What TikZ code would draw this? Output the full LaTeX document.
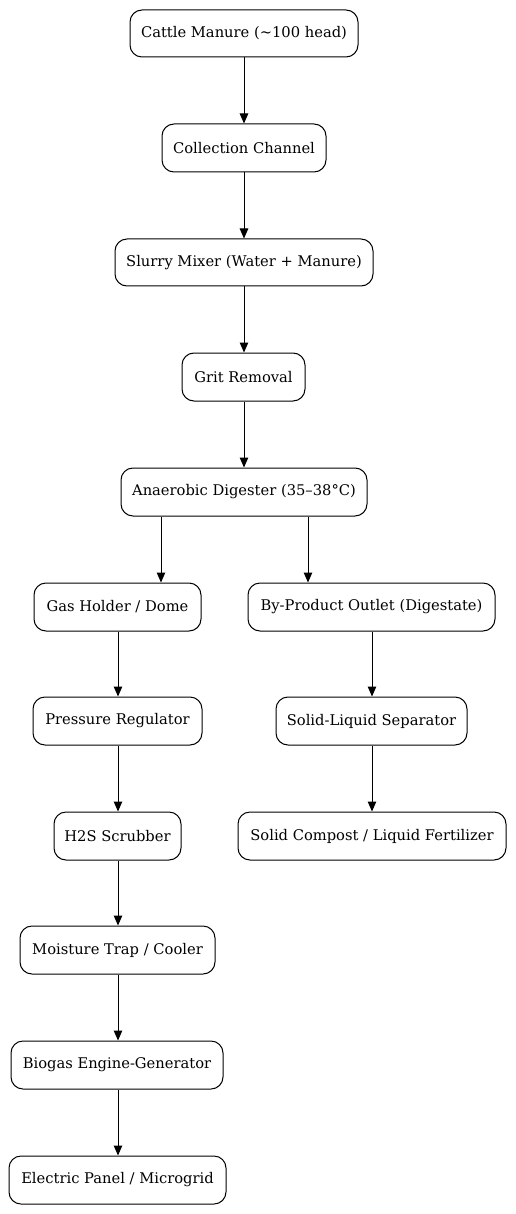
\documentclass[tikz,border=0pt]{standalone}
\usepackage{fontspec}
\setmainfont{DejaVu Serif}
\usetikzlibrary{arrows.meta}
\begin{document}
\begin{tikzpicture}[x=1pt,y=-1pt,
  box/.style={draw,rounded corners=12pt,line width=1pt,inner sep=0pt,font=\fontsize{14.7}{17}\selectfont},
  arr/.style={-{Triangle[length=10pt,width=8.5pt]},line width=1pt}]
\useasboundingbox (0,0) rectangle (516,1214);
\node[box,minimum width=228pt,minimum height=47pt] (cm) at (244,33.5) {Cattle Manure (\textasciitilde100 head)};
\node[box,minimum width=164pt,minimum height=48pt] (cc) at (244,148) {Collection Channel};
\node[box,minimum width=258pt,minimum height=47pt] (sm) at (244,262.5) {Slurry Mixer (Water + Manure)};
\node[box,minimum width=123pt,minimum height=48pt] (gr) at (243.5,377) {Grit Removal};
\node[box,minimum width=246pt,minimum height=48pt] (ad) at (244,492) {Anaerobic Digester (35–38°C)};
\node[box,minimum width=167pt,minimum height=48pt] (gh) at (117.5,607) {Gas Holder / Dome};
\node[box,minimum width=247pt,minimum height=48pt] (bp) at (371.5,607) {By-Product Outlet (Digestate)};
\node[box,minimum width=169pt,minimum height=48pt] (pr) at (117.5,721) {Pressure Regulator};
\node[box,minimum width=191pt,minimum height=48pt] (sl) at (371.5,721) {Solid-Liquid Separator};
\node[box,minimum width=127pt,minimum height=48pt] (hs) at (117.5,836) {H2S Scrubber};
\node[box,minimum width=268pt,minimum height=48pt] (sc) at (372,836) {Solid Compost / Liquid Fertilizer};
\node[box,minimum width=195pt,minimum height=48pt] (mt) at (117.5,950) {Moisture Trap / Cooler};
\node[box,minimum width=212pt,minimum height=48pt] (bg) at (117,1065) {Biogas Engine-Generator};
\node[box,minimum width=217pt,minimum height=48pt] (ep) at (117.5,1180) {Electric Panel / Microgrid};
\coordinate (xm) at (244,0);
\coordinate (xl) at (118,0);
\coordinate (xr) at (372,0);
\coordinate (e1) at (161,0);
\coordinate (e2) at (308,0);
\draw[arr] (cm.south -| xm) -- (cc.north -| xm);
\draw[arr] (cc.south -| xm) -- (sm.north -| xm);
\draw[arr] (sm.south -| xm) -- (gr.north -| xm);
\draw[arr] (gr.south -| xm) -- (ad.north -| xm);
\draw[arr] (ad.south -| e1) -- (gh.north -| e1);
\draw[arr] (ad.south -| e2) -- (bp.north -| e2);
\draw[arr] (gh.south -| xl) -- (pr.north -| xl);
\draw[arr] (pr.south -| xl) -- (hs.north -| xl);
\draw[arr] (hs.south -| xl) -- (mt.north -| xl);
\draw[arr] (mt.south -| xl) -- (bg.north -| xl);
\draw[arr] (bg.south -| xl) -- (ep.north -| xl);
\draw[arr] (bp.south -| xr) -- (sl.north -| xr);
\draw[arr] (sl.south -| xr) -- (sc.north -| xr);
\end{tikzpicture}
\end{document}
